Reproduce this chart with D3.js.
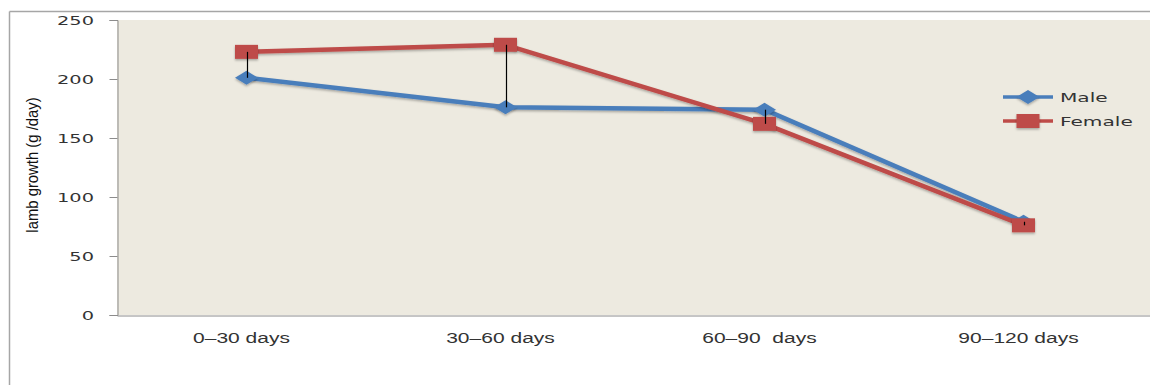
<!DOCTYPE html>
<html>
<head>
<meta charset="utf-8">
<script src="https://cdn.jsdelivr.net/npm/d3@7"></script>
<style>
  html, body { margin: 0; padding: 0; background: #fff; }
  svg { display: block; }
</style>
</head>
<body>
<svg id="chart" width="1150" height="385"></svg>
<script>
// Lamb growth by age period
const categories = ["0\u201330 days", "30\u201360 days", "60\u201390  days", "90\u2013120 days"];
const maleValues = [201, 176, 174, 79];
const femaleValues = [223, 229, 162, 76];
const yTicks = [0, 50, 100, 150, 200, 250];
const seriesNames = ["Male", "Female"];

const W = 1150, H = 385;
const plot = { left: 117, right: 1153, top: 20, bottom: 315 };
const blue = "#4a7ebb", red = "#be4b48";

const svg = d3.select("#chart");

const defs = svg.append("defs");
const f = defs.append("filter").attr("id", "shadow")
  .attr("x", "-20%").attr("y", "-20%").attr("width", "140%").attr("height", "160%");
f.append("feDropShadow").attr("dx", 0).attr("dy", 1.5).attr("stdDeviation", 1.2)
  .attr("flood-color", "#000").attr("flood-opacity", 0.3);

// outer chart frame (top and left edges)
svg.append("line").attr("x1", 9.5).attr("x2", W).attr("y1", 11.5).attr("y2", 11.5)
  .attr("stroke", "#a6a6a6").attr("stroke-width", 1.5);
svg.append("line").attr("x1", 9.5).attr("x2", 9.5).attr("y1", 11.5).attr("y2", H)
  .attr("stroke", "#a6a6a6").attr("stroke-width", 1.5);

// plot background
svg.append("rect").attr("x", plot.left).attr("y", plot.top)
  .attr("width", plot.right - plot.left).attr("height", plot.bottom - plot.top)
  .attr("fill", "#edeae0");

const x = d3.scaleBand().domain(categories).range([plot.left, plot.right]);
const y = d3.scaleLinear().domain([0, 250]).range([plot.bottom, plot.top]);
const cx = c => x(c) + x.bandwidth() / 2;

// horizontally stretched text helper
function stretched(g, txt, tx, ty, opts) {
  return g.append("text")
    .attr("transform", `translate(${tx},${ty}) scale(${opts.sx},1)`)
    .attr("text-anchor", opts.anchor || "start")
    .attr("font-family", opts.family)
    .attr("font-size", opts.size)
    .attr("fill", opts.fill || "#222")
    .style("white-space", "pre")
    .text(txt);
}

// y axis
const yAxis = d3.axisLeft(y).tickValues(yTicks).tickSize(8).tickFormat("");
const yg = svg.append("g").attr("transform", `translate(${plot.left + 0.5},0)`).call(yAxis);
yg.select(".domain").attr("stroke", "#8c8c8c");
yg.selectAll(".tick line").attr("stroke", "#8c8c8c");
yTicks.forEach(t => {
  stretched(svg, String(t), 94, y(t) + 4.5, { sx: 1.55, anchor: "end", family: "DejaVu Sans", size: 12.5, fill: "#333" });
});

// x axis
const xAxis = d3.axisBottom(x).tickSize(0).tickFormat("");
const xg = svg.append("g").attr("transform", `translate(0,${plot.bottom + 0.5})`).call(xAxis);
xg.select(".domain").attr("stroke", "#8c8c8c");
categories.forEach(c => {
  stretched(svg, c, cx(c) - 5, 343, { sx: 1.45, anchor: "middle", family: "Liberation Sans", size: 14.5, fill: "#333" });
});

// y axis title
svg.append("text")
  .attr("transform", `translate(38,165) rotate(-90) scale(0.9,1)`)
  .attr("text-anchor", "middle")
  .attr("font-family", "Liberation Sans")
  .attr("font-size", 16.5)
  .attr("fill", "#111")
  .text("lamb growth (g /day)");

// series lines
const line = d3.line().x((d, i) => cx(categories[i])).y(d => y(d));
const seriesData = [
  { name: seriesNames[0], values: maleValues, color: blue, marker: "diamond" },
  { name: seriesNames[1], values: femaleValues, color: red, marker: "square" }
];

seriesData.forEach(s => {
  svg.append("path").datum(s.values).attr("d", line)
    .attr("fill", "none").attr("stroke", s.color).attr("stroke-width", 4.5)
    .attr("stroke-linejoin", "round").attr("filter", "url(#shadow)");
});

function drawMarker(g, type, px, py, color) {
  if (type === "diamond") {
    g.append("path")
      .attr("d", `M${px - 11.5},${py} L${px},${py - 7} L${px + 11.5},${py} L${px},${py + 7} Z`)
      .attr("fill", color).attr("filter", "url(#shadow)");
  } else {
    g.append("rect").attr("x", px - 11.5).attr("y", py - 7).attr("width", 23).attr("height", 14)
      .attr("fill", color).attr("filter", "url(#shadow)");
  }
}

seriesData.forEach(s => {
  s.values.forEach((v, i) => drawMarker(svg, s.marker, cx(categories[i]), y(v), s.color));
});

// high-low lines between the two series
categories.forEach((c, i) => {
  svg.append("line")
    .attr("x1", Math.round(cx(c)) + 0.5).attr("x2", Math.round(cx(c)) + 0.5)
    .attr("y1", y(Math.max(maleValues[i], femaleValues[i])))
    .attr("y2", y(Math.min(maleValues[i], femaleValues[i])))
    .attr("stroke", "#000").attr("stroke-width", 1.2);
});

// legend
const legend = svg.append("g");
seriesData.forEach((s, i) => {
  const ly = 97 + i * 24;
  legend.append("line").attr("x1", 1003).attr("x2", 1053).attr("y1", ly).attr("y2", ly)
    .attr("stroke", s.color).attr("stroke-width", 3.5);
  drawMarker(legend, s.marker, 1028, ly, s.color);
  stretched(legend, s.name, 1060, ly + 5, { sx: 1.55, family: "DejaVu Sans", size: 13, fill: "#333" });
});
</script>
</body>
</html>
